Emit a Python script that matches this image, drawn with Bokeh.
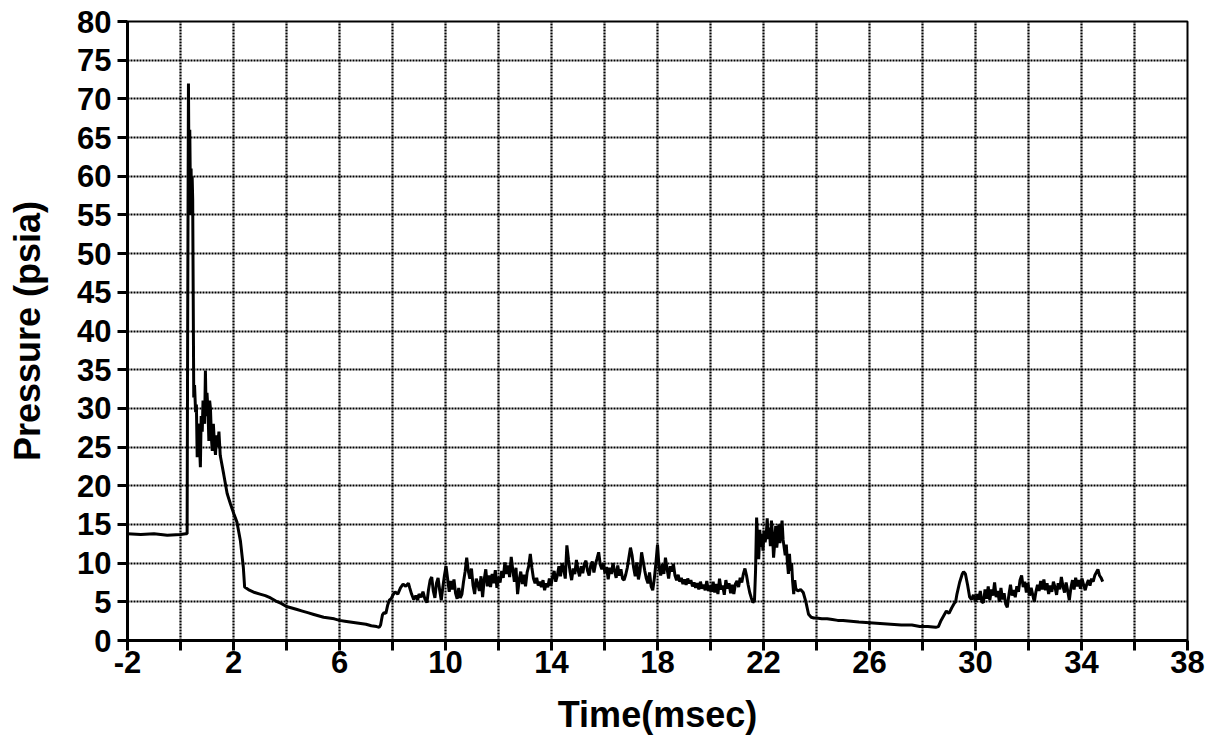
from bokeh.plotting import figure
from bokeh.models import FixedTicker, Range1d
from bokeh.embed import file_html
from bokeh.resources import INLINE

# ---- data (time in msec, pressure in psia) ----
t_pre = [-2.0, -1.5, -1.0, -0.5, 0.0, 0.2, 0.25]
p_pre = [13.8, 13.7, 13.8, 13.6, 13.7, 13.8, 13.8]

t_spike = [0.27, 0.30, 0.33, 0.35, 0.38, 0.40, 0.42, 0.44, 0.46, 0.50, 0.53, 0.57, 0.60, 0.63, 0.66, 0.69, 0.72,
           0.75, 0.78, 0.82, 0.85, 0.88, 0.91, 0.94, 0.97, 1.00, 1.04, 1.07, 1.10, 1.13, 1.17, 1.20, 1.24, 1.28,
           1.32, 1.36, 1.40, 1.45, 1.50]
p_spike = [40.0, 72.0, 55.0, 66.0, 56.0, 61.0, 55.0, 60.0, 57.0, 31.4, 33.0, 29.5, 30.5, 23.7, 28.0, 27.6, 25.0,
           22.4, 29.0, 27.0, 31.0, 30.1, 28.0, 34.9, 29.0, 32.0, 29.5, 25.8, 31.0, 30.0, 26.0, 24.5, 28.0, 25.5,
           24.0, 26.5, 25.0, 27.0, 23.9]

t_decay = [1.63, 1.76, 1.88, 2.01, 2.13, 2.26, 2.37, 2.42, 2.6, 2.8, 3.0, 3.2, 3.4, 3.6, 3.8, 4.0, 4.2, 4.4, 4.6,
           4.8, 5.0, 5.2, 5.4, 5.6, 5.8, 6.0, 6.2, 6.4, 6.6, 6.8, 7.0, 7.2, 7.4, 7.5]
p_decay = [21.5, 19.0, 17.7, 16.4, 15.3, 12.9, 9.5, 6.9, 6.5, 6.2, 6.0, 5.8, 5.5, 5.1, 4.8, 4.4, 4.2, 4.0, 3.8,
           3.6, 3.4, 3.2, 3.0, 2.9, 2.8, 2.6, 2.5, 2.4, 2.3, 2.2, 2.1, 1.9, 1.8, 1.7]

t_fill1 = [7.55, 7.62, 7.68, 7.75, 7.82, 7.88, 7.95, 8.02, 8.1, 8.2, 8.3, 8.4, 8.5, 8.6, 8.65, 8.72, 8.8, 8.88,
           8.95, 9.0, 9.08, 9.15, 9.22, 9.3, 9.36, 9.42, 9.48, 9.54, 9.6, 9.66, 9.72, 9.78, 9.84, 9.9, 9.96,
           10.02, 10.08, 10.14, 10.2, 10.26, 10.32, 10.38, 10.44, 10.5, 10.56, 10.62, 10.68, 10.74, 10.8, 10.86,
           10.92, 10.98, 11.04, 11.1, 11.16, 11.22, 11.28, 11.34, 11.4, 11.46, 11.52, 11.58, 11.64, 11.7, 11.76,
           11.82, 11.88, 11.94, 12.0, 12.06, 12.12, 12.18, 12.24, 12.3, 12.36, 12.42, 12.48, 12.54, 12.6, 12.66,
           12.72, 12.78, 12.84, 12.9, 12.96, 13.02, 13.08, 13.14, 13.2, 13.26, 13.32, 13.38, 13.44, 13.5, 13.56,
           13.62, 13.68, 13.74, 13.8, 13.86, 13.92, 13.98]
p_fill1 = [2.0, 3.3, 3.6, 3.5, 4.6, 5.2, 5.4, 5.9, 6.3, 6.0, 6.8, 7.3, 7.0, 7.4, 6.8, 6.0, 5.3, 5.8,
           5.2, 6.0, 5.6, 6.3, 5.4, 4.9, 6.6, 7.8, 8.2, 6.4, 5.5, 7.4, 8.1, 6.5, 5.2, 6.9, 8.4,
           9.6, 8.0, 6.3, 7.7, 6.6, 7.9, 6.1, 5.4, 6.8, 5.5, 6.0, 7.6, 8.9, 10.7, 9.0,
           8.0, 9.3, 7.1, 6.0, 8.0, 7.3, 6.4, 8.3, 5.6, 7.9, 9.2, 7.0, 8.4, 6.9, 8.6,
           7.4, 9.1, 6.8, 8.2, 7.5, 9.0, 8.1, 10.1, 8.6, 9.7, 8.2, 10.8, 9.1, 7.6, 9.4,
           6.0, 7.8, 8.9, 7.3, 8.5, 7.0, 8.8, 9.6, 11.2, 9.4, 8.0, 7.4, 8.1, 7.1, 7.6,
           6.9, 7.8, 6.5, 7.4, 6.9, 8.0, 7.1]

t_fill2 = [14.04, 14.1, 14.16, 14.22, 14.28, 14.34, 14.4, 14.46, 14.52, 14.58, 14.64, 14.7, 14.76, 14.82, 14.88,
           14.94, 15.0, 15.06, 15.12, 15.18, 15.24, 15.3, 15.36, 15.42, 15.48, 15.54, 15.6, 15.66, 15.72, 15.78,
           15.84, 15.9, 15.96, 16.02, 16.08, 16.14, 16.2, 16.26, 16.32, 16.38, 16.44, 16.5, 16.56, 16.62, 16.68,
           16.74, 16.8, 16.86, 16.92, 16.98, 17.04, 17.1, 17.16, 17.22, 17.28, 17.34, 17.4, 17.46, 17.52, 17.58,
           17.64, 17.7, 17.76, 17.82, 17.88, 17.94, 18.0, 18.06, 18.12, 18.18, 18.24, 18.3, 18.36, 18.42, 18.48,
           18.54, 18.6, 18.66, 18.72, 18.78, 18.84, 18.9, 18.96, 19.02, 19.08, 19.14, 19.2, 19.26, 19.32, 19.38,
           19.44, 19.5, 19.56, 19.62, 19.68, 19.74, 19.8, 19.86, 19.92, 19.98, 20.04, 20.1, 20.16, 20.22, 20.28,
           20.34, 20.4, 20.46, 20.52, 20.58, 20.64, 20.7, 20.76, 20.82, 20.88, 20.94, 21.0, 21.06, 21.12, 21.18,
           21.24, 21.3, 21.36, 21.42, 21.48, 21.54, 21.6, 21.66]
p_fill2 = [8.2, 9.0, 7.6, 8.4, 9.6, 8.3, 10.0, 9.2, 8.0, 12.3, 10.5, 8.9, 7.8, 9.3, 8.6,
           10.4, 9.1, 8.3, 9.6, 8.7, 9.9, 10.3, 9.0, 8.4, 9.7, 10.2, 8.8, 9.9, 10.6, 11.4,
           9.8, 9.2, 10.0, 8.7, 9.5, 7.9, 9.4, 8.6, 10.0, 9.0, 8.1, 9.7, 8.4, 9.2, 8.0,
           7.8, 8.5, 9.4, 10.7, 12.0, 11.0, 9.4, 8.3, 10.1, 7.9, 9.0, 11.4, 10.2, 9.0, 8.0,
           7.4, 8.8, 7.0, 6.5, 8.0, 10.0, 12.4, 9.4, 8.4, 9.9, 8.6, 10.7, 9.3, 8.0, 9.6,
           8.9, 9.9, 8.4, 7.8, 8.5, 7.6, 8.1, 7.3, 7.9, 7.2, 8.0, 7.4, 7.8, 7.0, 7.5,
           6.8, 7.4, 6.6, 7.6, 6.7, 7.2, 6.5, 7.7, 6.4, 7.1, 6.3, 7.6, 6.2, 7.3, 6.0,
           8.0, 6.6, 7.1, 5.9, 7.8, 6.7, 7.4, 6.1, 7.2, 6.0, 7.3, 7.7, 6.9, 8.1, 7.5,
           8.6, 9.3, 8.4, 7.2, 6.2, 5.5, 4.9, 5.2]

t_burst = [21.7, 21.74, 21.78, 21.82, 21.86, 21.9, 21.94, 21.98, 22.02, 22.06, 22.1, 22.14, 22.18, 22.22, 22.26,
           22.3, 22.34, 22.38, 22.42, 22.46, 22.5, 22.54, 22.58, 22.62, 22.66, 22.7, 22.74, 22.78, 22.82, 22.86,
           22.9, 22.94, 22.98, 23.02, 23.06, 23.1, 23.14, 23.18, 23.22, 23.3, 23.4, 23.5, 23.6, 23.7, 23.8]
p_burst = [9.0, 15.9, 13.0, 10.5, 14.3, 12.1, 13.8, 11.6, 14.2, 12.7, 13.5, 15.8, 13.1, 14.6, 12.2,
           15.5, 13.6, 10.7, 12.5, 14.8, 12.0, 13.3, 15.0, 12.6, 14.2, 15.5, 13.0, 12.0, 11.0, 12.4,
           10.2, 8.6, 11.2, 9.0, 10.0, 7.6, 6.0, 7.8, 6.7, 6.4, 6.6, 6.2, 5.0, 3.4, 3.0]

t_decay2 = [23.9, 24.0, 24.2, 24.4, 24.6, 24.8, 25.0, 25.3, 25.6, 26.0, 26.4, 26.8, 27.2, 27.6, 27.9, 28.2, 28.5]
p_decay2 = [2.9, 2.9, 2.8, 2.8, 2.7, 2.6, 2.6, 2.5, 2.4, 2.3, 2.2, 2.1, 2.0, 2.0, 1.8, 1.8, 1.7]

t_fill3 = [28.6, 28.7, 28.8, 28.9, 29.0, 29.1, 29.2, 29.25, 29.3, 29.4, 29.5, 29.55, 29.62, 29.7, 29.78, 29.85,
           29.92, 30.0, 30.06, 30.12, 30.18, 30.24, 30.3, 30.36, 30.42, 30.48, 30.54, 30.6, 30.66, 30.72, 30.78,
           30.84, 30.9, 30.96, 31.02, 31.08, 31.14, 31.2, 31.26, 31.32, 31.38, 31.44, 31.5, 31.56, 31.62, 31.68,
           31.74, 31.8, 31.86, 31.92, 31.98, 32.04, 32.1, 32.16, 32.22, 32.28, 32.34, 32.4, 32.46, 32.52, 32.58,
           32.64, 32.7, 32.76, 32.82, 32.88, 32.94, 33.0, 33.06, 33.12, 33.18, 33.24, 33.3, 33.36, 33.42, 33.48,
           33.54, 33.6, 33.66, 33.72, 33.78, 33.84, 33.9, 33.96, 34.02, 34.08, 34.14, 34.2, 34.26, 34.32, 34.38,
           34.44, 34.5, 34.56, 34.62, 34.68, 34.74, 34.8]
p_fill3 = [1.8, 2.6, 3.2, 3.8, 3.5, 4.2, 4.8, 5.0, 6.0, 7.5, 8.6, 8.9, 8.6, 7.2, 5.6, 5.3,
           5.9, 5.0, 6.0, 5.3, 6.4, 5.0, 4.9, 6.6, 5.4, 7.0, 5.2, 6.6, 5.8, 7.5, 5.6,
           6.4, 5.0, 6.8, 5.3, 6.1, 4.7, 4.3, 5.9, 7.2, 5.8, 6.5, 5.6, 7.0, 6.3, 7.8,
           8.4, 6.9, 7.6, 6.2, 7.4, 5.8, 6.8, 5.9, 5.0, 6.3, 7.2, 6.4, 7.7, 6.6, 7.9,
           6.5, 7.4, 6.0, 7.1, 6.3, 7.6, 6.9, 5.9, 7.4, 6.6, 8.2, 7.0, 6.2, 7.5, 6.4,
           5.2, 6.8, 7.8, 6.6, 8.1, 7.0, 7.8, 6.7, 8.0, 7.2, 6.5, 7.3, 7.8, 7.1, 8.0,
           7.6, 8.4, 8.8, 9.2, 8.4, 8.1, 7.6]

x_tick_labels = [-2, 2, 6, 10, 14, 18, 22, 26, 30, 34, 38]
x_minor_ticks = [0, 4, 8, 12, 16, 20, 24, 28, 32, 36]
y_tick_labels = [0, 5, 10, 15, 20, 25, 30, 35, 40, 45, 50, 55, 60, 65, 70, 75, 80]

time_ms = t_pre + t_spike + t_decay + t_fill1 + t_fill2 + t_burst + t_decay2 + t_fill3
pressure = p_pre + p_spike + p_decay + p_fill1 + p_fill2 + p_burst + p_decay2 + p_fill3

FONT = "Liberation Sans"

p = figure(width=1223, height=738, output_backend="svg", toolbar_location=None,
           x_range=Range1d(-2, 38), y_range=Range1d(0, 80),
           min_border_left=127, min_border_right=36, min_border_top=21, min_border_bottom=98)
p.background_fill_color = "white"
p.border_fill_color = "white"
p.outline_line_color = "black"
p.outline_line_width = 2

# grid
p.xgrid.ticker = FixedTicker(ticks=sorted(x_tick_labels + x_minor_ticks))
p.ygrid.ticker = FixedTicker(ticks=y_tick_labels)
for g in (p.xgrid, p.ygrid):
    g.grid_line_color = "black"
    g.grid_line_width = 2.2
    g.grid_line_dash = "2 1"
    g.grid_line_alpha = 1.0

# axes
p.xaxis.ticker = FixedTicker(ticks=x_tick_labels, minor_ticks=x_minor_ticks)
p.yaxis.ticker = FixedTicker(ticks=y_tick_labels, minor_ticks=[])
p.xaxis.major_label_overrides = {v: str(v) for v in x_tick_labels}
for ax in (p.xaxis, p.yaxis):
    ax.axis_line_color = "black"
    ax.axis_line_width = 3
    ax.major_tick_line_color = "black"
    ax.major_tick_line_width = 3
    ax.minor_tick_line_color = "black"
    ax.minor_tick_line_width = 3
    ax.major_tick_in = 0
    ax.minor_tick_in = 0
    ax.major_label_text_font = FONT
    ax.major_label_text_font_style = "bold"
    ax.major_label_text_font_size = "31px"
    ax.major_label_text_color = "black"
    ax.axis_label_text_font = FONT
    ax.axis_label_text_font_style = "bold"
    ax.axis_label_text_font_size = "36px"
    ax.axis_label_text_color = "black"
p.xaxis.major_tick_out = 10
p.xaxis.minor_tick_out = 10
p.yaxis.major_tick_out = 10
p.yaxis.minor_tick_out = 0
p.xaxis.major_label_standoff = 0
p.yaxis.major_label_standoff = 6
p.xaxis.axis_label = "Time(msec)"
p.yaxis.axis_label = "Pressure (psia)"
p.xaxis.axis_label_standoff = 18
p.yaxis.axis_label_standoff = 26

p.line(time_ms, pressure, line_color="black", line_width=3)

open("out.html", "w").write(file_html(p, INLINE))
